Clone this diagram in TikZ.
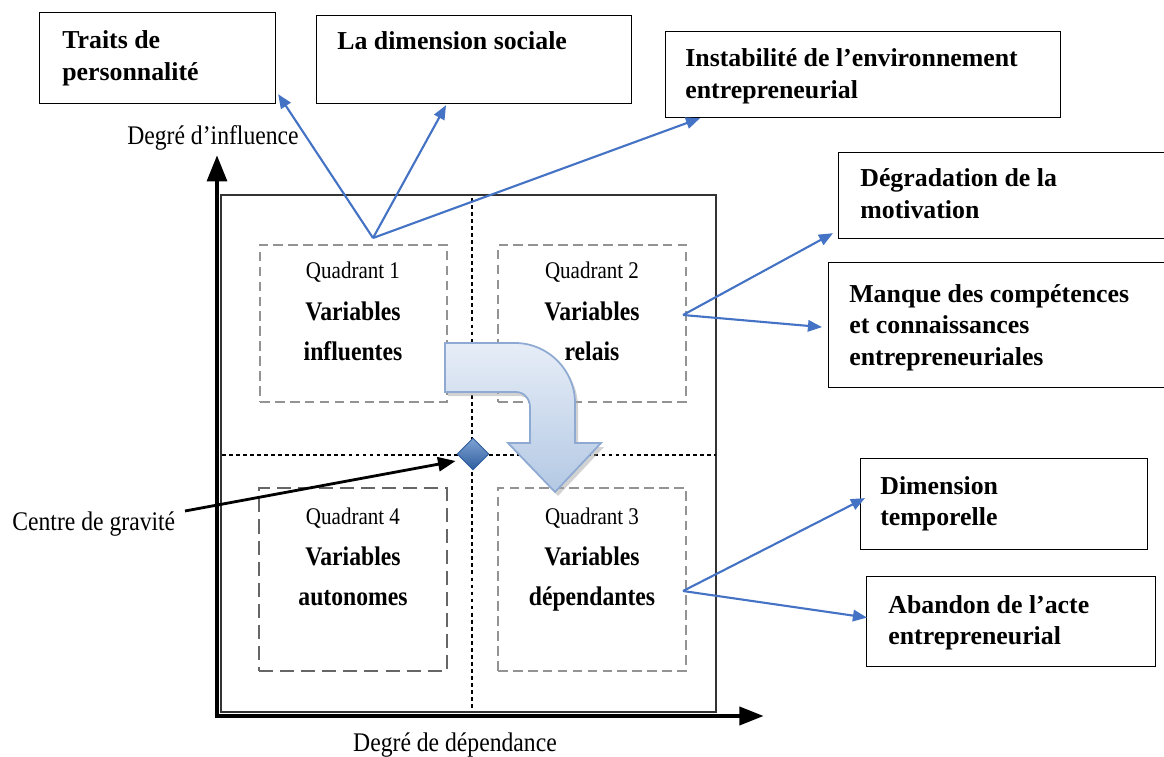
\documentclass[tikz,border=0pt]{standalone}
\usepackage{fontspec}
\setmainfont{Liberation Serif}
\newfontfamily\narrowf[FakeStretch=0.88]{Liberation Serif}
\usetikzlibrary{arrows.meta,calc,shapes.geometric}
\definecolor{lblue}{HTML}{4472C4}
\definecolor{arrfillA}{HTML}{E6EDF7}
\definecolor{arrfillB}{HTML}{B4C9E4}
\definecolor{arrdraw}{HTML}{8EAAD3}
\definecolor{diamA}{HTML}{7FA3D4}
\definecolor{diamB}{HTML}{2F5E9E}
\newcommand\mybfont{\fontsize{14.7}{18.1}\selectfont\bfseries}
\newcommand\myqfont{\narrowf\fontsize{13.6}{16}\selectfont}
\newcommand\myvfont{\narrowf\fontsize{15.3}{23.2}\selectfont\bfseries}
\newcommand\mylfont{\narrowf\fontsize{15.3}{18}\selectfont}
\tikzset{
  txtbox/.style={draw=black, line width=0.7pt, rectangle, inner sep=0pt},
  boxtext/.style={anchor=base west, inner sep=0pt, font=\mybfont},
  quadbox/.style={draw=gray!85, line width=0.6pt, dash pattern=on 5.5pt off 3pt},
  quadboxd/.style={draw=black!60, line width=1.1pt, dash pattern=on 8pt off 4pt},
  qlab/.style={anchor=base, inner sep=0pt, font=\myqfont},
  qvar/.style={anchor=base, inner sep=0pt, font=\myvfont},
  bluearrow/.style={draw=lblue, line width=1.2pt, -{Triangle[length=8pt,width=6.5pt]}},
  divider/.style={draw=black, line width=0.6pt, dash pattern=on 2.2pt off 1.8pt},
}
\begin{document}
\begin{tikzpicture}[x=0.02cm,y=-0.02cm]
\useasboundingbox (0,0) rectangle (1164,757);

% outer frame
\draw[black!80, line width=0.6pt] (221,195) rectangle (716,712);
% dividers
\draw[divider] (472,198) -- (472,710);
\draw[divider] (222,455) -- (716,455);

% quadrant boxes
\node[quadbox, minimum width=3.74cm, minimum height=3.14cm, inner sep=0pt] (q1) at (353.5,323.5) {};
\node[quadbox, minimum width=3.76cm, minimum height=3.14cm, inner sep=0pt] (q2) at (592,323.5) {};
\node[quadboxd, minimum width=3.76cm, minimum height=3.66cm, inner sep=0pt] (q4) at (353,579.5) {};
\node[quadbox, minimum width=3.76cm, minimum height=3.66cm, inner sep=0pt] (q3) at (592,579.5) {};

\node[qlab] (q1l) at (353,278) {Quadrant 1};
\node[qvar] (q1v) at (353,320) {\begin{tabular}[t]{@{}c@{}}Variables\\influentes\end{tabular}};
\node[qlab] (q2l) at (592,278) {Quadrant 2};
\node[qvar] (q2v) at (592,320) {\begin{tabular}[t]{@{}c@{}}Variables\\relais\end{tabular}};
\node[qlab] (q4l) at (353,524) {Quadrant 4};
\node[qvar] (q4v) at (353,565) {\begin{tabular}[t]{@{}c@{}}Variables\\autonomes\end{tabular}};
\node[qlab] (q3l) at (592,524) {Quadrant 3};
\node[qvar] (q3v) at (592,565) {\begin{tabular}[t]{@{}c@{}}Variables\\dépendantes\end{tabular}};

% curved big arrow (shadow + body)
\fill[black!35, opacity=0.5] (448,347) -- (518,347) .. controls (551,347) and (578,374) .. (578,407) -- (578,447) -- (604,447) -- (558,496) -- (511,447) -- (533,447) -- (533,411) .. controls (533,403) and (527,396) .. (519,396) -- (448,396) -- cycle;
\path[top color=arrfillA, bottom color=arrfillB, draw=arrdraw, line width=1pt]
  (445,343) -- (515,343) .. controls (548,343) and (575,370) .. (575,403) -- (575,443) -- (601,443) -- (555,492) -- (508,443) -- (530,443) -- (530,407) .. controls (530,399) and (524,392) .. (516,392) -- (445,392) -- cycle;

% centre of gravity diamond
\node[diamond, aspect=1, inner sep=0pt, minimum size=0.64cm, top color=diamA, bottom color=diamB, draw=diamB, line width=0.5pt] (diam) at (473,454) {};

% axes
\coordinate (org) at (217,716);
\coordinate (ytip) at (217,155);
\coordinate (xtip) at (764,716);
\draw[black, line width=2.8pt, -{Triangle[length=15pt,width=11pt]}] ([yshift=-0.04cm]org) -- (ytip);
\draw[black, line width=2.8pt, -{Triangle[length=14pt,width=10pt]}] ([xshift=-0.04cm]org) -- (xtip);
\node[anchor=base, inner sep=0pt, font=\mylfont] (ylab) at (213,145) {Degré d’influence};
\node[anchor=base, inner sep=0pt, font=\mylfont] (xlab) at (455,751) {Degré de dépendance};

% centre de gravité label + arrow
\node[anchor=base west, inner sep=0pt, font=\mylfont] (cg) at (12,530) {Centre de gravité};
\coordinate (cgstart) at (185,511);
\draw[black, line width=1.6pt, -{Triangle[length=10pt,width=8pt]}] (cgstart) -- ($(diam.west)+(-1,7)$);

% text boxes
\node[txtbox, anchor=north west, minimum width=4.72cm, minimum height=1.82cm] (traits) at (39,12) {};
\node[boxtext] at (62,49) {\begin{tabular}[t]{@{}l@{}}Traits de\\personnalité\end{tabular}};

\node[txtbox, anchor=north west, minimum width=6.3cm, minimum height=1.76cm] (social) at (316,15) {};
\node[boxtext] at (337,50) {La dimension sociale};

\node[txtbox, anchor=north west, minimum width=7.9cm, minimum height=1.72cm] (instab) at (665,31) {};
\node[boxtext] at (685,67) {\begin{tabular}[t]{@{}l@{}}Instabilité de l’environnement\\entrepreneurial\end{tabular}};

\node[txtbox, anchor=north west, minimum width=6.54cm, minimum height=1.72cm] (degr) at (838,152) {};
\node[boxtext] at (860,187) {\begin{tabular}[t]{@{}l@{}}Dégradation de la\\motivation\end{tabular}};

\node[txtbox, anchor=north west, minimum width=6.74cm, minimum height=2.5cm] (manque) at (828,262) {};
\node[boxtext] at (849,302) {\begin{tabular}[t]{@{}l@{}}Manque des compétences\\et connaissances\\entrepreneuriales\end{tabular}};

\node[txtbox, anchor=north west, minimum width=5.74cm, minimum height=1.82cm] (tempo) at (860,458) {};
\node[boxtext] at (880,494) {\begin{tabular}[t]{@{}l@{}}Dimension\\temporelle\end{tabular}};

\node[txtbox, anchor=north west, minimum width=5.78cm, minimum height=1.8cm] (aband) at (866,576) {};
\node[boxtext] at (888,613) {\begin{tabular}[t]{@{}l@{}}Abandon de l’acte\\entrepreneurial\end{tabular}};

% blue connectors
\coordinate (s1) at (373,238);
\coordinate (s2) at (683,315);
\coordinate (s3) at (683,591);
\draw[bluearrow] (s1) -- ($(traits.south east)+(2,-10)$);
\draw[bluearrow] (s1) -- ($(social.south west)+(130,1)$);
\draw[bluearrow] (s1) -- ($(instab.south west)+(35,0)$);
\draw[bluearrow] (s2) -- ($(degr.south west)+(-5,-6)$);
\draw[bluearrow] (s2) -- ($(manque.west)+(-6,2)$);
\draw[bluearrow] (s3) -- ($(tempo.west)+(5,-6)$);
\draw[bluearrow] (s3) -- ($(aband.west)+(1,-4)$);
\end{tikzpicture}
\end{document}
